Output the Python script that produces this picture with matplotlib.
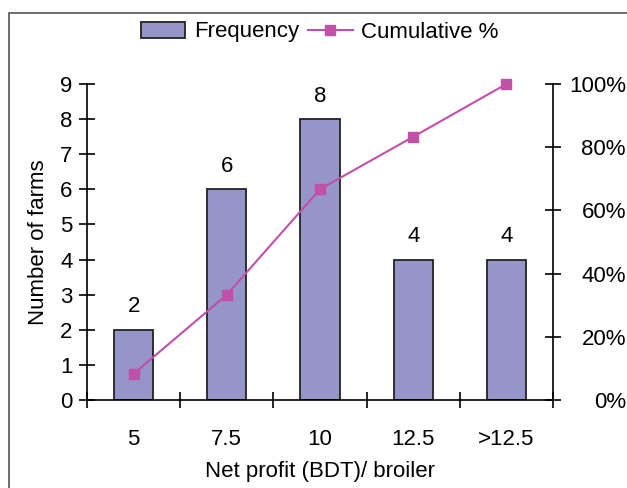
import numpy as np
import matplotlib.pyplot as plt
from matplotlib.patches import Rectangle

plt.rcParams['font.family'] = ['Liberation Sans', 'DejaVu Sans']

categories = ['5', '7.5', '10', '12.5', '>12.5']
frequency = [2, 6, 8, 4, 4]
cumulative = [8.3, 33.3, 66.7, 83.3, 100.0]
left_ticks = list(range(0, 10))
right_ticks = [0, 20, 40, 60, 80, 100]

bar_color = '#9595C9'
line_color = '#C050A8'
fs = 16

fig = plt.figure(figsize=(6.27, 4.88), dpi=100)
ax = fig.add_axes([87/627, 1-400/488, (553-87)/627, (400-84)/488])

x = np.arange(len(categories))
bars = ax.bar(x, frequency, width=0.42, color=bar_color, edgecolor='#222222',
              linewidth=1.3, label='Frequency', zorder=2)
for xi, v in zip(x, frequency):
    ax.text(xi, v + 0.35, str(v), ha='center', va='bottom', fontsize=fs)

ax.set_xlim(-0.5, len(categories) - 0.5)
ax.set_ylim(0, 9)
ax.set_yticks(left_ticks)
ax.set_xticks(x)
ax.set_xticklabels(categories)
ax.set_xticks(np.arange(-0.5, len(categories), 1), minor=True)
ax.tick_params(axis='x', which='major', length=0, pad=21, labelsize=fs)
ax.tick_params(axis='x', which='minor', direction='inout', length=11, width=1.2)
ax.tick_params(axis='y', direction='inout', length=11, width=1.2, pad=5, labelsize=fs)
for s in ['top', 'right']:
    ax.spines[s].set_visible(False)
for s in ['left', 'bottom']:
    ax.spines[s].set_linewidth(1.2)
ax.set_ylabel('Number of farms', fontsize=fs, labelpad=8)
ax.set_xlabel('Net profit (BDT)/ broiler', fontsize=fs, labelpad=8)

ax2 = ax.twinx()
line, = ax2.plot(x, cumulative, color=line_color, marker='s', markersize=7,
                 linewidth=1.5, label='Cumulative %', zorder=3, clip_on=False)
ax2.set_ylim(0, 100)
ax2.set_yticks(right_ticks)
ax2.set_yticklabels([f'{t}%' for t in right_ticks])
ax2.tick_params(axis='y', direction='inout', length=11, width=1.2, pad=47, labelsize=fs)
for lab in ax2.get_yticklabels():
    lab.set_horizontalalignment('right')
for s in ['top', 'left', 'bottom']:
    ax2.spines[s].set_visible(False)
ax2.spines['right'].set_linewidth(1.2)

fig.legend([bars, line], ['Frequency', 'Cumulative %'], loc='center',
           bbox_to_anchor=(0.51, 1-32/488), ncol=2, frameon=False, fontsize=fs,
           handlelength=2.0, handletextpad=0.4, columnspacing=0.4)

fig.patches.append(Rectangle((9/627, -0.1), 1.2, 1-13/488+0.1, transform=fig.transFigure,
                             fill=False, edgecolor='#555555', linewidth=1.2))

fig.savefig('out.png', dpi=100)
